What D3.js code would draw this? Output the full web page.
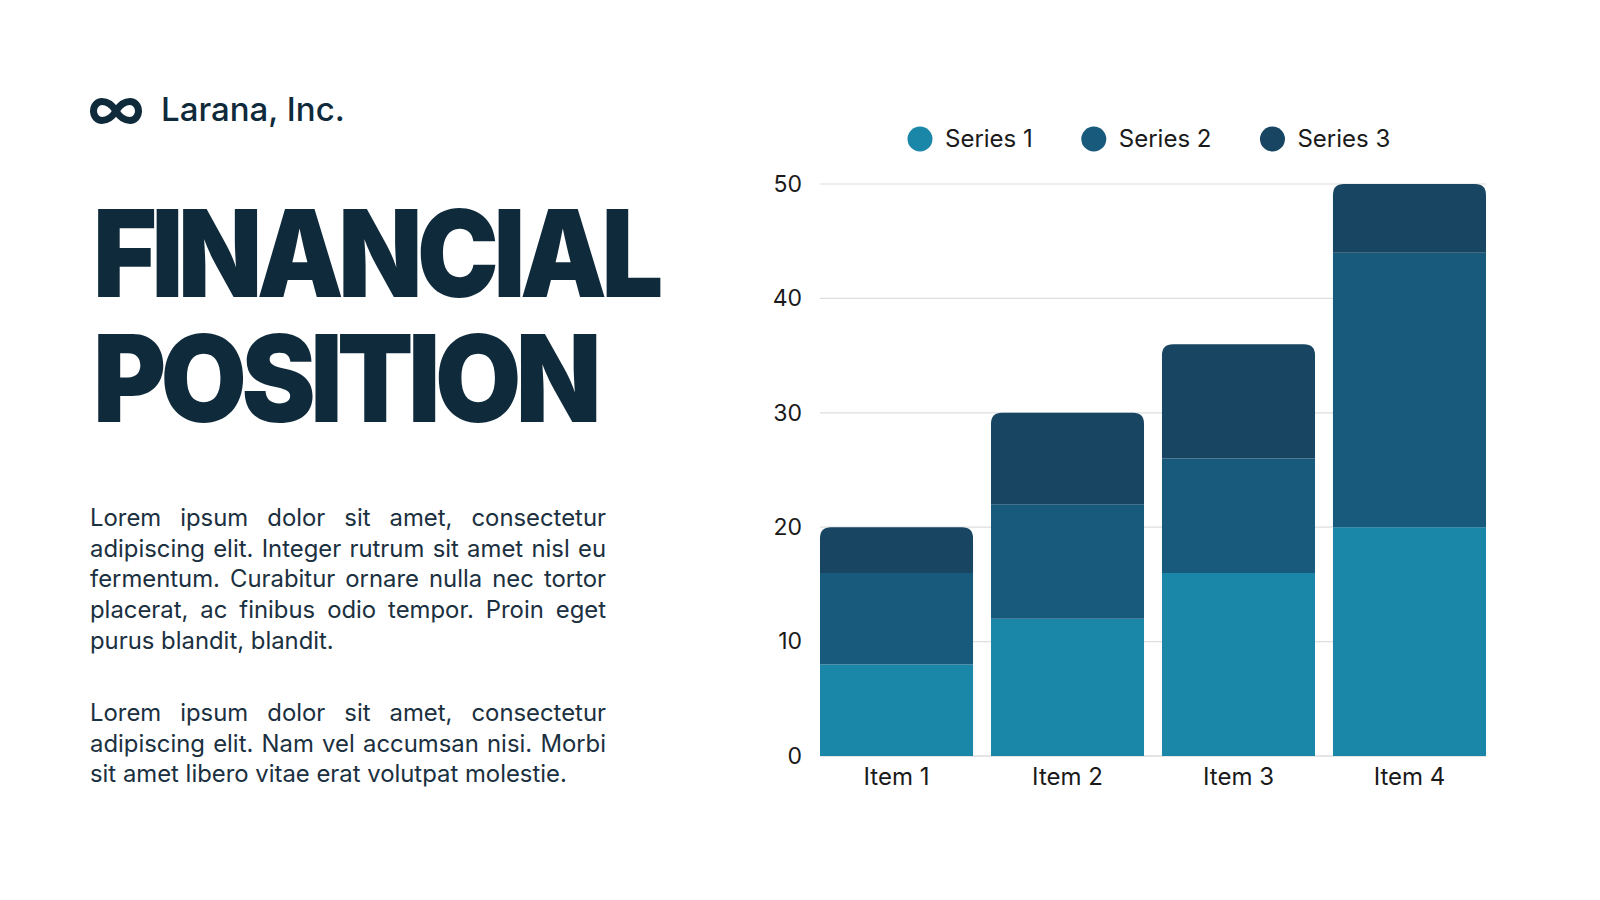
<!DOCTYPE html>
<html>
<head>
<meta charset="utf-8">
<script src="https://cdn.jsdelivr.net/npm/d3@7"></script>
<style>
  body { margin: 0; background: #fff; }
  svg { display: block; }
</style>
</head>
<body>
<svg id="slide" width="1600" height="900"></svg>
<script>
// chart data
var items = ["Item 1", "Item 2", "Item 3", "Item 4"];
var seriesNames = ["Series 1", "Series 2", "Series 3"];
var series1 = [8, 12, 16, 20];
var series2 = [8, 10, 10, 24];
var series3 = [4, 8, 10, 6];
var yTicks = [0, 10, 20, 30, 40, 50];
var colors = ["#1a87a9", "#185a7c", "#174562"];

var para1 = [
  "Lorem ipsum dolor sit amet, consectetur",
  "adipiscing elit. Integer rutrum sit amet nisl eu",
  "fermentum. Curabitur ornare nulla nec tortor",
  "placerat, ac finibus odio tempor. Proin eget",
  "purus blandit, blandit."
];
var para2 = [
  "Lorem ipsum dolor sit amet, consectetur",
  "adipiscing elit. Nam vel accumsan nisi. Morbi",
  "sit amet libero vitae erat volutpat molestie."
];

var dark = "#0f2a3b";
var bodyFont = "Inter, 'Open Sans', sans-serif";

var svg = d3.select("#slide");
svg.append("rect").attr("width", 1600).attr("height", 900).attr("fill", "#fff");

// ---- left side: logo, title, text ----
// infinity mark
svg.append("path")
    .attr("d", "M116,111 C121,103 126,101.5 130,101.5 C135,101.5 138.5,106 138.5,111 " +
               "C138.5,116 135,120.5 130,120.5 C126,120.5 121,119 116,111 " +
               "C111,103 106,101.5 102,101.5 C97,101.5 93.5,106 93.5,111 " +
               "C93.5,116 97,120.5 102,120.5 C106,120.5 111,119 116,111 Z")
    .attr("fill", "none")
    .attr("stroke", dark)
    .attr("stroke-width", 7)
    .attr("stroke-linejoin", "round");

svg.append("text")
    .attr("x", 161).attr("y", 121)
    .attr("font-family", bodyFont)
    .attr("font-weight", 500)
    .attr("font-size", 33)
    .attr("fill", dark)
    .text("Larana, Inc.");

var titleLines = [
  {t: "FINANCIAL", y: 297, w: 565},
  {t: "POSITION", y: 422, w: 503}
];
svg.append("text")
    .attr("font-family", "Inter, Lato, sans-serif")
    .attr("font-weight", 900)
    .attr("font-size", 121)
    .attr("letter-spacing", -6)
    .attr("fill", dark)
  .selectAll("tspan").data(titleLines).join("tspan")
    .attr("x", 93)
    .attr("y", function(d) { return d.y; })
    .attr("textLength", function(d) { return d.w; })
    .attr("lengthAdjust", "spacingAndGlyphs")
    .text(function(d) { return d.t; });

// justified paragraphs
var textLeft = 90, textWidth = 516, lineGap = 30.7;
var paraSize = 20;

// fit font size so the last line of para 2 is as wide as in the slide
var probe = svg.append("text").attr("font-family", bodyFont).attr("font-size", paraSize).text(para2[2]);
paraSize = paraSize * 477 / probe.node().getComputedTextLength();
probe.remove();

function drawPara(lines, y0) {
  lines.forEach(function(line, i) {
    var t = svg.append("text")
        .attr("x", textLeft)
        .attr("y", y0 + i * lineGap)
        .attr("font-family", bodyFont)
        .attr("font-size", paraSize)
        .attr("fill", "#1b3040")
        .text(line);
    if (i < lines.length - 1) {
      var w = t.node().getComputedTextLength();
      var spaces = line.split(" ").length - 1;
      t.attr("word-spacing", (textWidth - w) / spaces);
    }
  });
}
drawPara(para1, 526);
drawPara(para2, 721);

// ---- chart ----
var x = d3.scaleBand().domain(items).range([820, 1486]).paddingInner(0.105);
var y = d3.scaleLinear().domain([0, 50]).range([756, 184]);

var rows = items.map(function(it, i) {
  return {item: it, "Series 1": series1[i], "Series 2": series2[i], "Series 3": series3[i]};
});
var stacked = d3.stack().keys(seriesNames)(rows);

// grid
svg.append("g").selectAll("line").data(yTicks).join("line")
    .attr("x1", 820).attr("x2", 1486)
    .attr("y1", function(d) { return y(d); })
    .attr("y2", function(d) { return y(d); })
    .attr("stroke", function(d) { return d === 0 ? "#c9c9c9" : "#dedede"; })
    .attr("stroke-width", 1.2);

// y axis labels
var yAxis = d3.axisLeft(y).tickValues(yTicks).tickSize(0).tickPadding(18);
var ya = svg.append("g").attr("transform", "translate(820,0)").call(yAxis);
ya.select(".domain").remove();
ya.selectAll("text")
    .attr("font-family", bodyFont)
    .attr("font-size", 23)
    .attr("fill", "#1a1a1a");

// x axis labels
var xAxis = d3.axisBottom(x).tickSize(0).tickPadding(12);
var xa = svg.append("g").attr("transform", "translate(0,756)").call(xAxis);
xa.select(".domain").remove();
xa.selectAll("text")
    .attr("font-family", bodyFont)
    .attr("font-size", 24)
    .attr("fill", "#1a1a1a");

// rounded top for the last segment
function segPath(x0, w, yTop, yBot, r) {
  if (!r) return "M" + x0 + "," + yBot + "V" + yTop + "H" + (x0 + w) + "V" + yBot + "Z";
  return "M" + x0 + "," + yBot +
    "V" + (yTop + r) +
    "Q" + x0 + "," + yTop + " " + (x0 + r) + "," + yTop +
    "H" + (x0 + w - r) +
    "Q" + (x0 + w) + "," + yTop + " " + (x0 + w) + "," + (yTop + r) +
    "V" + yBot + "Z";
}

svg.append("g").selectAll("g").data(stacked).join("g")
    .attr("fill", function(d, i) { return colors[i]; })
  .selectAll("path")
  .data(function(d) { return d.map(function(p) { return {p: p, top: d.index === seriesNames.length - 1}; }); })
  .join("path")
    .attr("d", function(d) {
      return segPath(x(d.p.data.item), x.bandwidth(), y(d.p[1]), y(d.p[0]), d.top ? 11 : 0);
    });

// legend
var legend = svg.append("g");
var lx = 920;
seriesNames.forEach(function(name, i) {
  legend.append("circle").attr("cx", lx).attr("cy", 139).attr("r", 12.5).attr("fill", colors[i]);
  var t = legend.append("text")
      .attr("x", lx + 25).attr("y", 139)
      .attr("dy", "0.35em")
      .attr("font-family", bodyFont)
      .attr("font-size", 24)
      .attr("fill", "#1a1a1a")
      .text(name);
  lx = lx + 25 + t.node().getComputedTextLength() + 61;
});
</script>
</body>
</html>
